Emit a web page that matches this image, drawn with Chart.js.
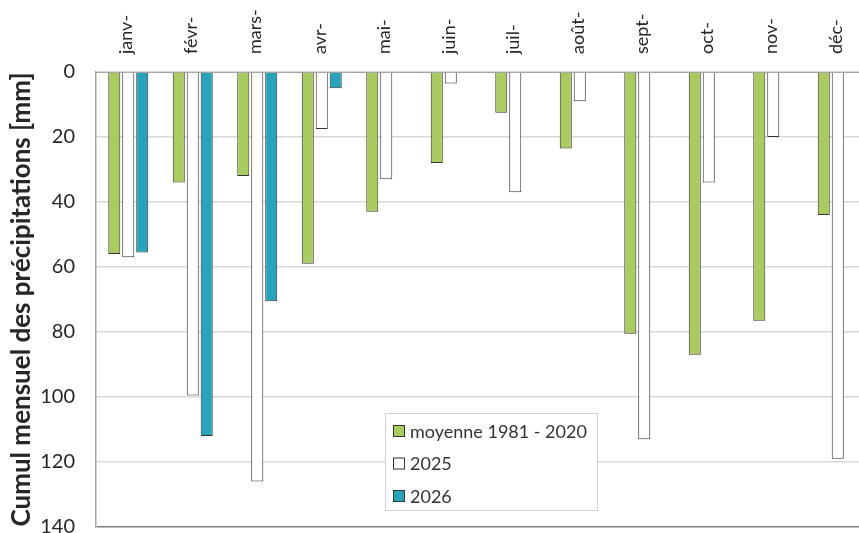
<!DOCTYPE html>
<html>
<head>
<meta charset="utf-8">
<script src="https://cdn.jsdelivr.net/npm/chart.js@4/dist/chart.umd.min.js"></script>
<style>
  html, body { margin: 0; padding: 0; overflow: hidden; background: #fff; }
  #wrap { position: relative; width: 872px; height: 545px; }
</style>
</head>
<body>
<div id="wrap"><canvas id="precipChart"></canvas></div>
<script>
// data (mm)
var months = ['janv-', 'févr-', 'mars-', 'avr-', 'mai-', 'juin-', 'juil-', 'août-', 'sept-', 'oct-', 'nov-', 'déc-'];
var normale = [56, 34, 32, 59, 43, 28, 12.5, 23.5, 80.5, 87, 76.5, 44];
var pluie2025 = [57, 99.5, 126, 17.5, 33, 3.5, 37, 9, 113, 34, 20, 119];
var pluie2026 = [55.5, 112, 70.5, 5, null, null, null, null, null, null, null, null];
var yTicks = [0, 20, 40, 60, 80, 100, 120, 140];

var ctx = document.getElementById('precipChart').getContext('2d');
var font = 'Lato, "Open Sans", sans-serif';
var txt = '#262626';

// legend box drawn inside the plot, like the original
var boxLegend = {
  id: 'boxLegend',
  afterDraw: function(chart) {
    var c = chart.ctx;
    var x = 385, y = 413, w = 212, h = 97;
    c.save();
    c.fillStyle = '#fff';
    c.fillRect(x, y, w, h);
    c.strokeStyle = '#d0d0d0';
    c.lineWidth = 1;
    c.strokeRect(x + 0.5, y + 0.5, w, h);
    c.font = '18px ' + font;
    c.textBaseline = 'middle';
    chart.data.datasets.forEach(function(ds, i) {
      var cy = y + 18 + i * 32.5;
      c.fillStyle = ds.backgroundColor;
      c.fillRect(x + 8.5, cy - 5.5, 11, 11);
      c.strokeStyle = '#333';
      c.strokeRect(x + 8.5, cy - 5.5, 11, 11);
      c.fillStyle = '#333';
      c.fillText(ds.label, x + 25, cy + 1);
    });
    c.restore();
  }
};

var myChart = new Chart(ctx, {
  type: 'bar',
  data: {
    labels: months,
    datasets: [
      { label: 'moyenne 1981 - 2020', data: normale, backgroundColor: '#a9cc5f', borderColor: '#333', borderWidth: 1 },
      { label: '2025', data: pluie2025, backgroundColor: '#ffffff', borderColor: '#333', borderWidth: 1 },
      { label: '2026', data: pluie2026, backgroundColor: '#25a5bb', borderColor: '#333', borderWidth: 1 }
    ]
  },
  options: {
    responsive: true,
    maintainAspectRatio: false,
    animation: false,
    categoryPercentage: 0.65,
    barPercentage: 0.86,
    layout: { padding: { top: 0, right: 2, bottom: 18, left: 0 } },
    plugins: { legend: { display: false }, tooltip: { enabled: false } },
    scales: {
      x: {
        position: 'top',
        grid: { display: false },
        border: { display: true, color: '#a6a6a6', width: 1 },
        ticks: { color: txt, font: { family: font, size: 18 }, minRotation: 90, maxRotation: 90, padding: 10, labelOffset: 20 },
        afterFit: function(s) { s.height = 72; s.paddingLeft = 0; s.paddingRight = 0; }
      },
      y: {
        reverse: true,
        min: 0,
        max: 140,
        afterBuildTicks: function(s) { s.ticks = yTicks.map(function(v) { return { value: v }; }); },
        grid: {
          drawTicks: false,
          color: function(c) { return c.tick && c.tick.value === 140 ? '#808080' : '#d9d9d9'; },
          lineWidth: 1.5
        },
        border: { display: true, color: '#a6a6a6', width: 1.5 },
        ticks: { color: txt, font: { family: font, size: 20 }, padding: 21 },
        title: {
          display: true,
          text: 'Cumul mensuel des précipitations [mm]',
          color: txt,
          font: { family: font, size: 26, weight: 'bold' },
          padding: { top: 6, bottom: 0 }
        },
        afterFit: function(s) { s.width = 96; s.paddingTop = 0; s.paddingBottom = 0; }
      }
    }
  },
  plugins: [boxLegend]
});
</script>
</body>
</html>
